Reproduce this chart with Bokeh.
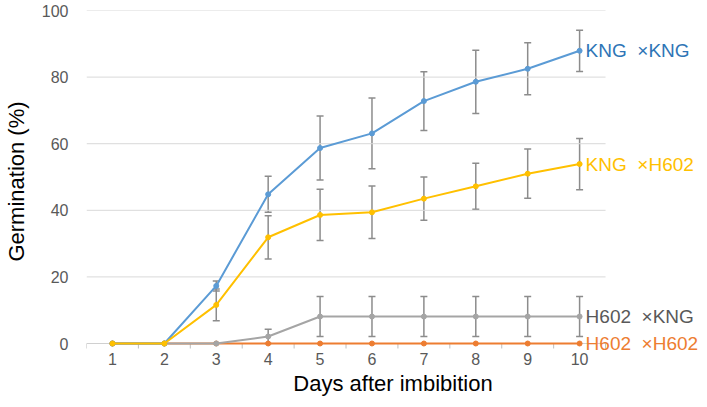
from bokeh.plotting import figure
from bokeh.models import ColumnDataSource, Whisker, TeeHead, Label, FixedTicker, Range1d
from bokeh.embed import file_html
from bokeh.resources import INLINE

days = [1, 2, 3, 4, 5, 6, 7, 8, 9, 10]
x_ticks = [1, 2, 3, 4, 5, 6, 7, 8, 9, 10]
y_ticks = [0, 20, 40, 60, 80, 100]
grid_values = [20, 40, 60, 80, 100]

kng_kng = [0, 0, 17.3, 44.8, 58.7, 63.1, 72.8, 78.6, 82.5, 87.9]
kng_kng_err = [0, 0, 1.5, 5.4, 9.6, 10.6, 8.8, 9.5, 7.8, 6.2]
kng_h602 = [0, 0, 11.6, 31.9, 38.6, 39.4, 43.5, 47.2, 51.0, 53.9]
kng_h602_err = [0, 0, 4.8, 6.5, 7.7, 7.9, 6.5, 6.9, 7.4, 7.7]
h602_kng = [0, 0, 0, 2.1, 8.1, 8.1, 8.1, 8.1, 8.1, 8.1]
h602_kng_err = [0, 0, 0, 2.2, 6.0, 6.0, 6.0, 6.0, 6.0, 6.0]
h602_h602 = [0, 0, 0, 0, 0, 0, 0, 0, 0, 0]
h602_h602_err = [0, 0, 0, 0, 0, 0, 0, 0, 0, 0]

NB = "\u00a0"
labels = ["KNG" + NB + NB + "×KNG", "KNG" + NB + NB + "×H602",
          "H602" + NB + NB + "×KNG", "H602" + NB + NB + "×H602"]
series = [kng_kng, kng_h602, h602_kng, h602_h602]
errors = [kng_kng_err, kng_h602_err, h602_kng_err, h602_h602_err]
line_colors = ["#5B9BD5", "#FFC000", "#A5A5A5", "#ED7D31"]
label_colors = ["#2E75B6", "#FFC000", "#595959", "#ED7D31"]

FONT = "Liberation Sans"
X_START, X_END, X_VIEW_END = 0.5, 10.5, 12.31
Y_START = -2.7          # a little room below 0 so the lowest end label is not clipped
TICK_LEN = 1.5          # ~5px of the y scale

p = figure(width=699, height=399, output_backend="svg", toolbar_location=None,
           x_range=Range1d(X_START, X_VIEW_END), y_range=Range1d(Y_START, 100),
           min_border_left=81, min_border_right=0, min_border_top=10, min_border_bottom=47)
p.outline_line_color = None
p.background_fill_color = "white"
p.border_fill_color = "white"

# x axis: only tick labels and title from Bokeh; line and ticks drawn at y=0
p.xaxis.ticker = FixedTicker(ticks=x_ticks)
p.xaxis.axis_line_color = None
p.xaxis.major_tick_line_color = None
p.xaxis.minor_tick_line_color = None
p.xaxis.major_tick_out = 0
p.xaxis.major_tick_in = 0
p.xaxis.minor_tick_out = 0
p.xaxis.minor_tick_in = 0
p.xaxis.major_label_standoff = 0
p.xaxis.axis_label = "Days after imbibition"
p.xaxis.axis_label_standoff = 3

p.yaxis.ticker = FixedTicker(ticks=y_ticks)
p.yaxis.axis_line_color = None
p.yaxis.major_tick_line_color = None
p.yaxis.minor_tick_line_color = None
p.yaxis.major_tick_out = 0
p.yaxis.major_tick_in = 0
p.yaxis.minor_tick_out = 0
p.yaxis.major_label_standoff = 18
p.yaxis.axis_label = "Germination (%)"
p.yaxis.axis_label_standoff = 10

for ax in [p.xaxis, p.yaxis]:
    ax.major_label_text_font = FONT
    ax.major_label_text_font_size = "16px"
    ax.major_label_text_color = "#595959"
    ax.axis_label_text_font = FONT
    ax.axis_label_text_font_size = "22px"
    ax.axis_label_text_font_style = "normal"
    ax.axis_label_text_color = "#000000"

p.xgrid.grid_line_color = None
p.ygrid.grid_line_color = None
p.segment(x0=[X_START] * len(grid_values), y0=grid_values,
          x1=[X_END] * len(grid_values), y1=grid_values,
          line_color="#D9D9D9", line_width=1)

# category boundary ticks and baseline at y = 0
bounds = [t - 0.5 for t in x_ticks] + [X_END]
p.segment(x0=bounds, y0=[0] * len(bounds), x1=bounds, y1=[-TICK_LEN] * len(bounds),
          line_color="#BFBFBF", line_width=1)
p.segment(x0=[X_START], y0=[0], x1=[X_END], y1=[0], line_color="#D0D0D0", line_width=1)

# error bars
for vals, errs in zip(series, errors):
    xs = [d for d, e in zip(days, errs) if e > 0]
    up = [v + e for v, e in zip(vals, errs) if e > 0]
    lo = [max(v - e, 0) for v, e in zip(vals, errs) if e > 0]
    if xs:
        src = ColumnDataSource(dict(x=xs, upper=up, lower=lo))
        w = Whisker(base="x", upper="upper", lower="lower", source=src,
                    line_color="#8C8C8C", line_width=1.5,
                    upper_head=TeeHead(size=7, line_color="#8C8C8C", line_width=1.5),
                    lower_head=TeeHead(size=7, line_color="#8C8C8C", line_width=1.5))
        p.add_layout(w)

# lines, drawing order: H602xH602, H602xKNG, KNGxKNG, KNGxH602
for i in [3, 2, 0, 1]:
    p.line(days, series[i], line_color=line_colors[i], line_width=2)
    p.scatter(days, series[i], size=5, fill_color=line_colors[i], line_color=line_colors[i])

# end labels
for i in range(4):
    lab = Label(x=days[-1], y=series[i][-1], x_units="data", y_units="data",
                text=labels[i], x_offset=6, text_baseline="middle",
                text_font=FONT, text_font_size="19px", text_color=label_colors[i])
    p.add_layout(lab)

open("out.html", "w").write(file_html(p, INLINE))
